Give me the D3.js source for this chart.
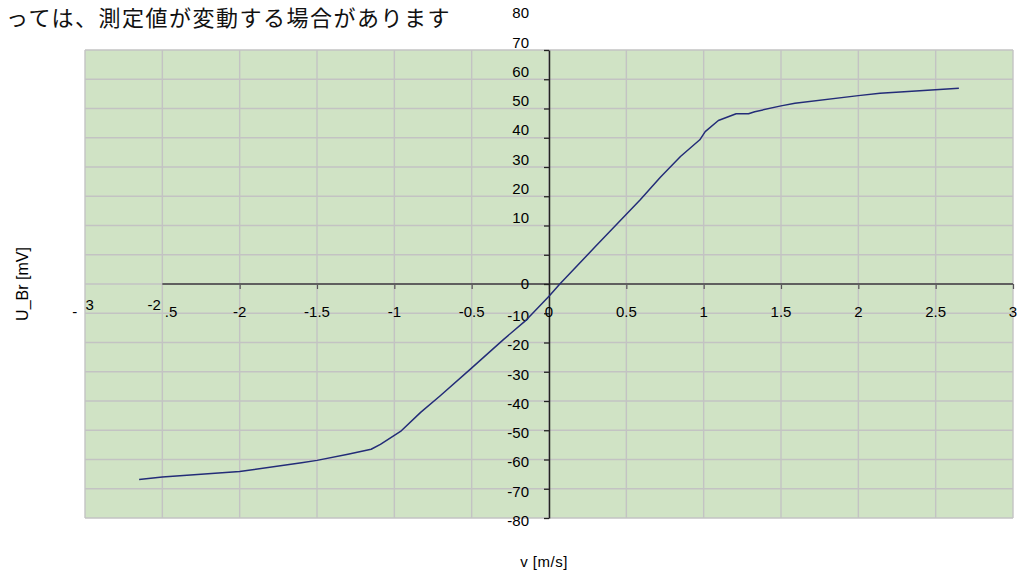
<!DOCTYPE html>
<html>
<head>
<meta charset="utf-8">
<script src="https://cdn.jsdelivr.net/npm/d3@7"></script>
<style>
  html, body { margin: 0; padding: 0; background: #fff; }
  svg { display: block; }
</style>
</head>
<body>
<svg id="chart" width="1021" height="576"></svg>
<script>
// Bridge voltage U_Br against flow velocity v
const velocity = [-2.65, -2.5, -2.0, -1.6, -1.5, -1.3, -1.15, -1.09, -0.96, -0.83, -0.705, -0.51, -0.295, -0.155, 0, 0.07, 0.3, 0.59, 0.72, 0.85, 0.975, 1.01, 1.095, 1.21, 1.29, 1.33, 1.5, 1.59, 2.0, 2.14, 2.27, 2.65];
const voltage  = [-66.8, -66.0, -64.1, -61.1, -60.3, -58.2, -56.5, -54.8, -50.4, -43.9, -38.3, -29.2, -19.0, -12.7, -4.2, 0, 12.8, 28.8, 36.5, 43.6, 49.3, 52.1, 55.9, 58.2, 58.2, 58.9, 60.9, 61.8, 64.4, 65.2, 65.6, 66.9];

const xTicks = [-3, -2.5, -2, -1.5, -1, -0.5, 0, 0.5, 1, 1.5, 2, 2.5, 3];
const yTicks = [-80, -70, -60, -50, -40, -30, -20, -10, 0, 10, 20, 30, 40, 50, 60, 70, 80];

const noteText = "っては、測定値が変動する場合があります";
const xTitle = "v [m/s]";
const yTitle = "U_Br [mV]";

const svg = d3.select("#chart");
const font = "'Liberation Sans', Arial, sans-serif";

const x = d3.scaleLinear().domain([-3, 3]).range([85, 1013]);
const y = d3.scaleLinear().domain([-80, 80]).range([518, 50]);

// plot area
svg.append("rect")
  .attr("x", x(-3)).attr("y", y(80))
  .attr("width", x(3) - x(-3)).attr("height", y(-80) - y(80))
  .attr("fill", "#d0e3c5");

// grid
svg.append("g").selectAll("line.h").data(yTicks).join("line")
  .attr("x1", x(-3)).attr("x2", x(3))
  .attr("y1", d => y(d)).attr("y2", d => y(d))
  .attr("stroke", "#c3c3c3").attr("stroke-width", 1.4);
svg.append("g").selectAll("line.v").data(xTicks).join("line")
  .attr("x1", d => x(d)).attr("x2", d => x(d))
  .attr("y1", y(80)).attr("y2", y(-80))
  .attr("stroke", "#c3c3c3").attr("stroke-width", 1.4);

// horizontal axis through zero
const xAxis = d3.axisBottom(x)
  .tickValues(xTicks.filter(d => d >= -2))
  .tickSize(5).tickFormat("");
const gx = svg.append("g").attr("transform", `translate(0,${y(0)})`).call(xAxis);
gx.select(".domain").remove();
gx.selectAll(".tick line").attr("stroke", "#555").attr("stroke-width", 1.2);
svg.append("line")
  .attr("x1", x(-2.5)).attr("x2", x(3))
  .attr("y1", y(0)).attr("y2", y(0))
  .attr("stroke", "#5f5f5f").attr("stroke-width", 2);

// vertical axis through zero
const yAxis = d3.axisLeft(y).tickValues(yTicks).tickSize(5).tickSizeOuter(0).tickFormat("");
const gy = svg.append("g").attr("transform", `translate(${x(0)},0)`).call(yAxis);
gy.select(".domain").attr("stroke", "#222").attr("stroke-width", 1.5);
gy.selectAll(".tick line").attr("stroke", "#222").attr("stroke-width", 1.3);

// x tick labels
const xl = svg.append("g").attr("font-family", font).attr("font-size", 15).attr("fill", "#000");
xTicks.forEach(t => {
  const txt = xl.append("text").attr("x", x(t)).attr("y", y(0) + 33).attr("text-anchor", "middle");
  const s = String(t);
  if (t === -3) {
    txt.append("tspan").text(s.slice(0, 1)).attr("dx", -2);
    txt.append("tspan").text("  " + s.slice(1)).attr("dy", -7).attr("xml:space", "preserve");
  } else if (t === -2.5) {
    txt.append("tspan").text(s.slice(0, 2)).attr("dy", -7);
    txt.append("tspan").text(s.slice(2)).attr("dy", 7).attr("dx", 4);
  } else {
    txt.text(s);
  }
});

// y tick labels
const yl = svg.append("g").attr("font-family", font).attr("font-size", 15).attr("fill", "#000");
yTicks.forEach(t => {
  const off = t > 0 ? -37 : (t < 0 ? 2.5 : 0);
  yl.append("text")
    .attr("x", x(0) - 20).attr("y", y(t) + off)
    .attr("dy", "0.36em")
    .attr("text-anchor", "end")
    .text(t);
});

// curve
const line = d3.line().x(d => x(d[0])).y(d => y(d[1]));
svg.append("path")
  .datum(velocity.map((v, i) => [v, voltage[i]]))
  .attr("d", line)
  .attr("fill", "none")
  .attr("stroke", "#232c78")
  .attr("stroke-width", 1.5)
  .attr("stroke-linejoin", "round");

// axis titles
svg.append("text")
  .attr("x", 544).attr("y", 567)
  .attr("text-anchor", "middle")
  .attr("font-family", font).attr("font-size", 15)
  .attr("letter-spacing", 0.5)
  .text(xTitle);
svg.append("text")
  .attr("transform", `translate(28,${284}) rotate(-90)`)
  .attr("text-anchor", "middle")
  .attr("font-family", font).attr("font-size", 16)
  .text(yTitle);

// note above the chart
svg.append("text")
  .attr("x", 6).attr("y", 26)
  .attr("text-anchor", "start")
  .attr("font-family", "'Noto Sans CJK JP', sans-serif")
  .attr("font-size", 22)
  .attr("letter-spacing", 1.5)
  .attr("fill", "#111")
  .text(noteText);
</script>
</body>
</html>
